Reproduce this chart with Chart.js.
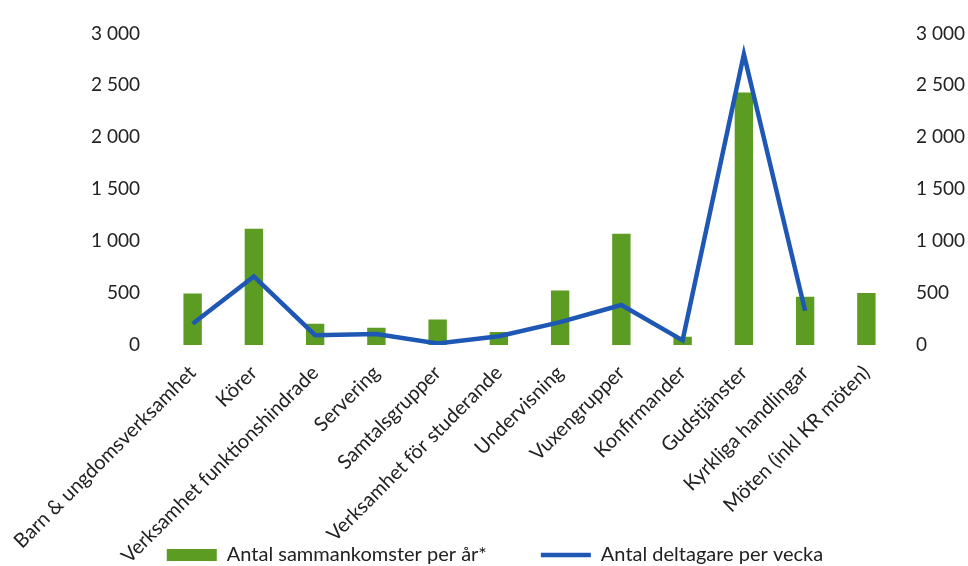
<!DOCTYPE html>
<html>
<head>
<meta charset="utf-8">
<script src="https://cdn.jsdelivr.net/npm/chart.js@4"></script>
<style>
html,body{margin:0;padding:0;background:#fff;}
#wrap{width:968px;height:566px;position:relative;}
</style>
</head>
<body>
<div id="wrap"><canvas id="c" width="968" height="566"></canvas></div>
<script>
const categories = ['Barn & ungdomsverksamhet','Körer','Verksamhet funktionshindrade','Servering','Samtalsgrupper','Verksamhet för studerande','Undervisning','Vuxengrupper','Konfirmander','Gudstjänster','Kyrkliga handlingar','Möten (inkl KR möten)'];
const sammankomster = [495, 1120, 205, 165, 245, 125, 525, 1070, 80, 2430, 465, 500];
const deltagare = [205, 660, 95, 105, 15, 85, 220, 385, 45, 2800, 330, null];
const yTicks = [0, 500, 1000, 1500, 2000, 2500, 3000];

const FONT = 'Lato';
const fmt = v => String(v).replace(/\B(?=(\d{3})+(?!\d))/g, ' ');

// let the rotated category labels run past the axis box (they overlap the legend, as in the original)
const unclipLabels = {
  id: 'unclipLabels',
  afterLayout(chart) { chart.scales.x.bottom = chart.height; }
};

new Chart(document.getElementById('c'), {
  data: {
    labels: categories,
    datasets: [
      {
        type: 'line',
        label: 'Antal deltagare per vecka',
        data: deltagare,
        yAxisID: 'y1',
        borderColor: '#1f58b4',
        backgroundColor: '#1f58b4',
        borderWidth: 4.5,
        pointRadius: 0,
        tension: 0,
        pointStyle: 'line',
        order: 0
      },
      {
        type: 'bar',
        label: 'Antal sammankomster per år*',
        data: sammankomster,
        yAxisID: 'y',
        backgroundColor: '#5c9c22',
        borderWidth: 0,
        barPercentage: 0.3,
        categoryPercentage: 1,
        pointStyle: 'rect',
        order: 1
      }
    ]
  },
  plugins: [unclipLabels],
  options: {
    responsive: false,
    animation: false,
    layout: { padding: { top: 28, left: 22, right: 0, bottom: -9 } },
    plugins: {
      tooltip: { enabled: false },
      legend: {
        position: 'bottom',
        reverse: true,
        labels: {
          usePointStyle: true,
          pointStyleWidth: 50,
          boxHeight: 12,
          padding: 54,
          color: '#222',
          font: { family: FONT, size: 20 }
        }
      }
    },
    scales: {
      x: {
        grid: { display: false, drawTicks: false },
        border: { display: false },
        ticks: {
          autoSkip: false,
          minRotation: 45,
          maxRotation: 45,
          padding: 16,
          color: '#222',
          font: { family: FONT, size: 20 }
        },
        afterFit: s => { s.height = 146; s.paddingLeft = 0; s.paddingRight = 0; }
      },
      y: {
        position: 'left',
        min: 0, max: 3000,
        grid: { display: false, drawTicks: false },
        border: { display: false },
        afterBuildTicks: s => { s.ticks = yTicks.map(v => ({ value: v })); },
        ticks: {
          padding: 22,
          color: '#222',
          font: { family: FONT, size: 19 },
          callback: v => fmt(v)
        },
        afterFit: s => { s.width = 140; }
      },
      y1: {
        position: 'right',
        min: 0, max: 3000,
        grid: { display: false, drawTicks: false },
        border: { display: false },
        afterBuildTicks: s => { s.ticks = yTicks.map(v => ({ value: v })); },
        ticks: {
          padding: 19,
          color: '#222',
          font: { family: FONT, size: 19 },
          callback: v => fmt(v)
        },
        afterFit: s => { s.width = 71; }
      }
    }
  }
});
</script>
</body>
</html>
